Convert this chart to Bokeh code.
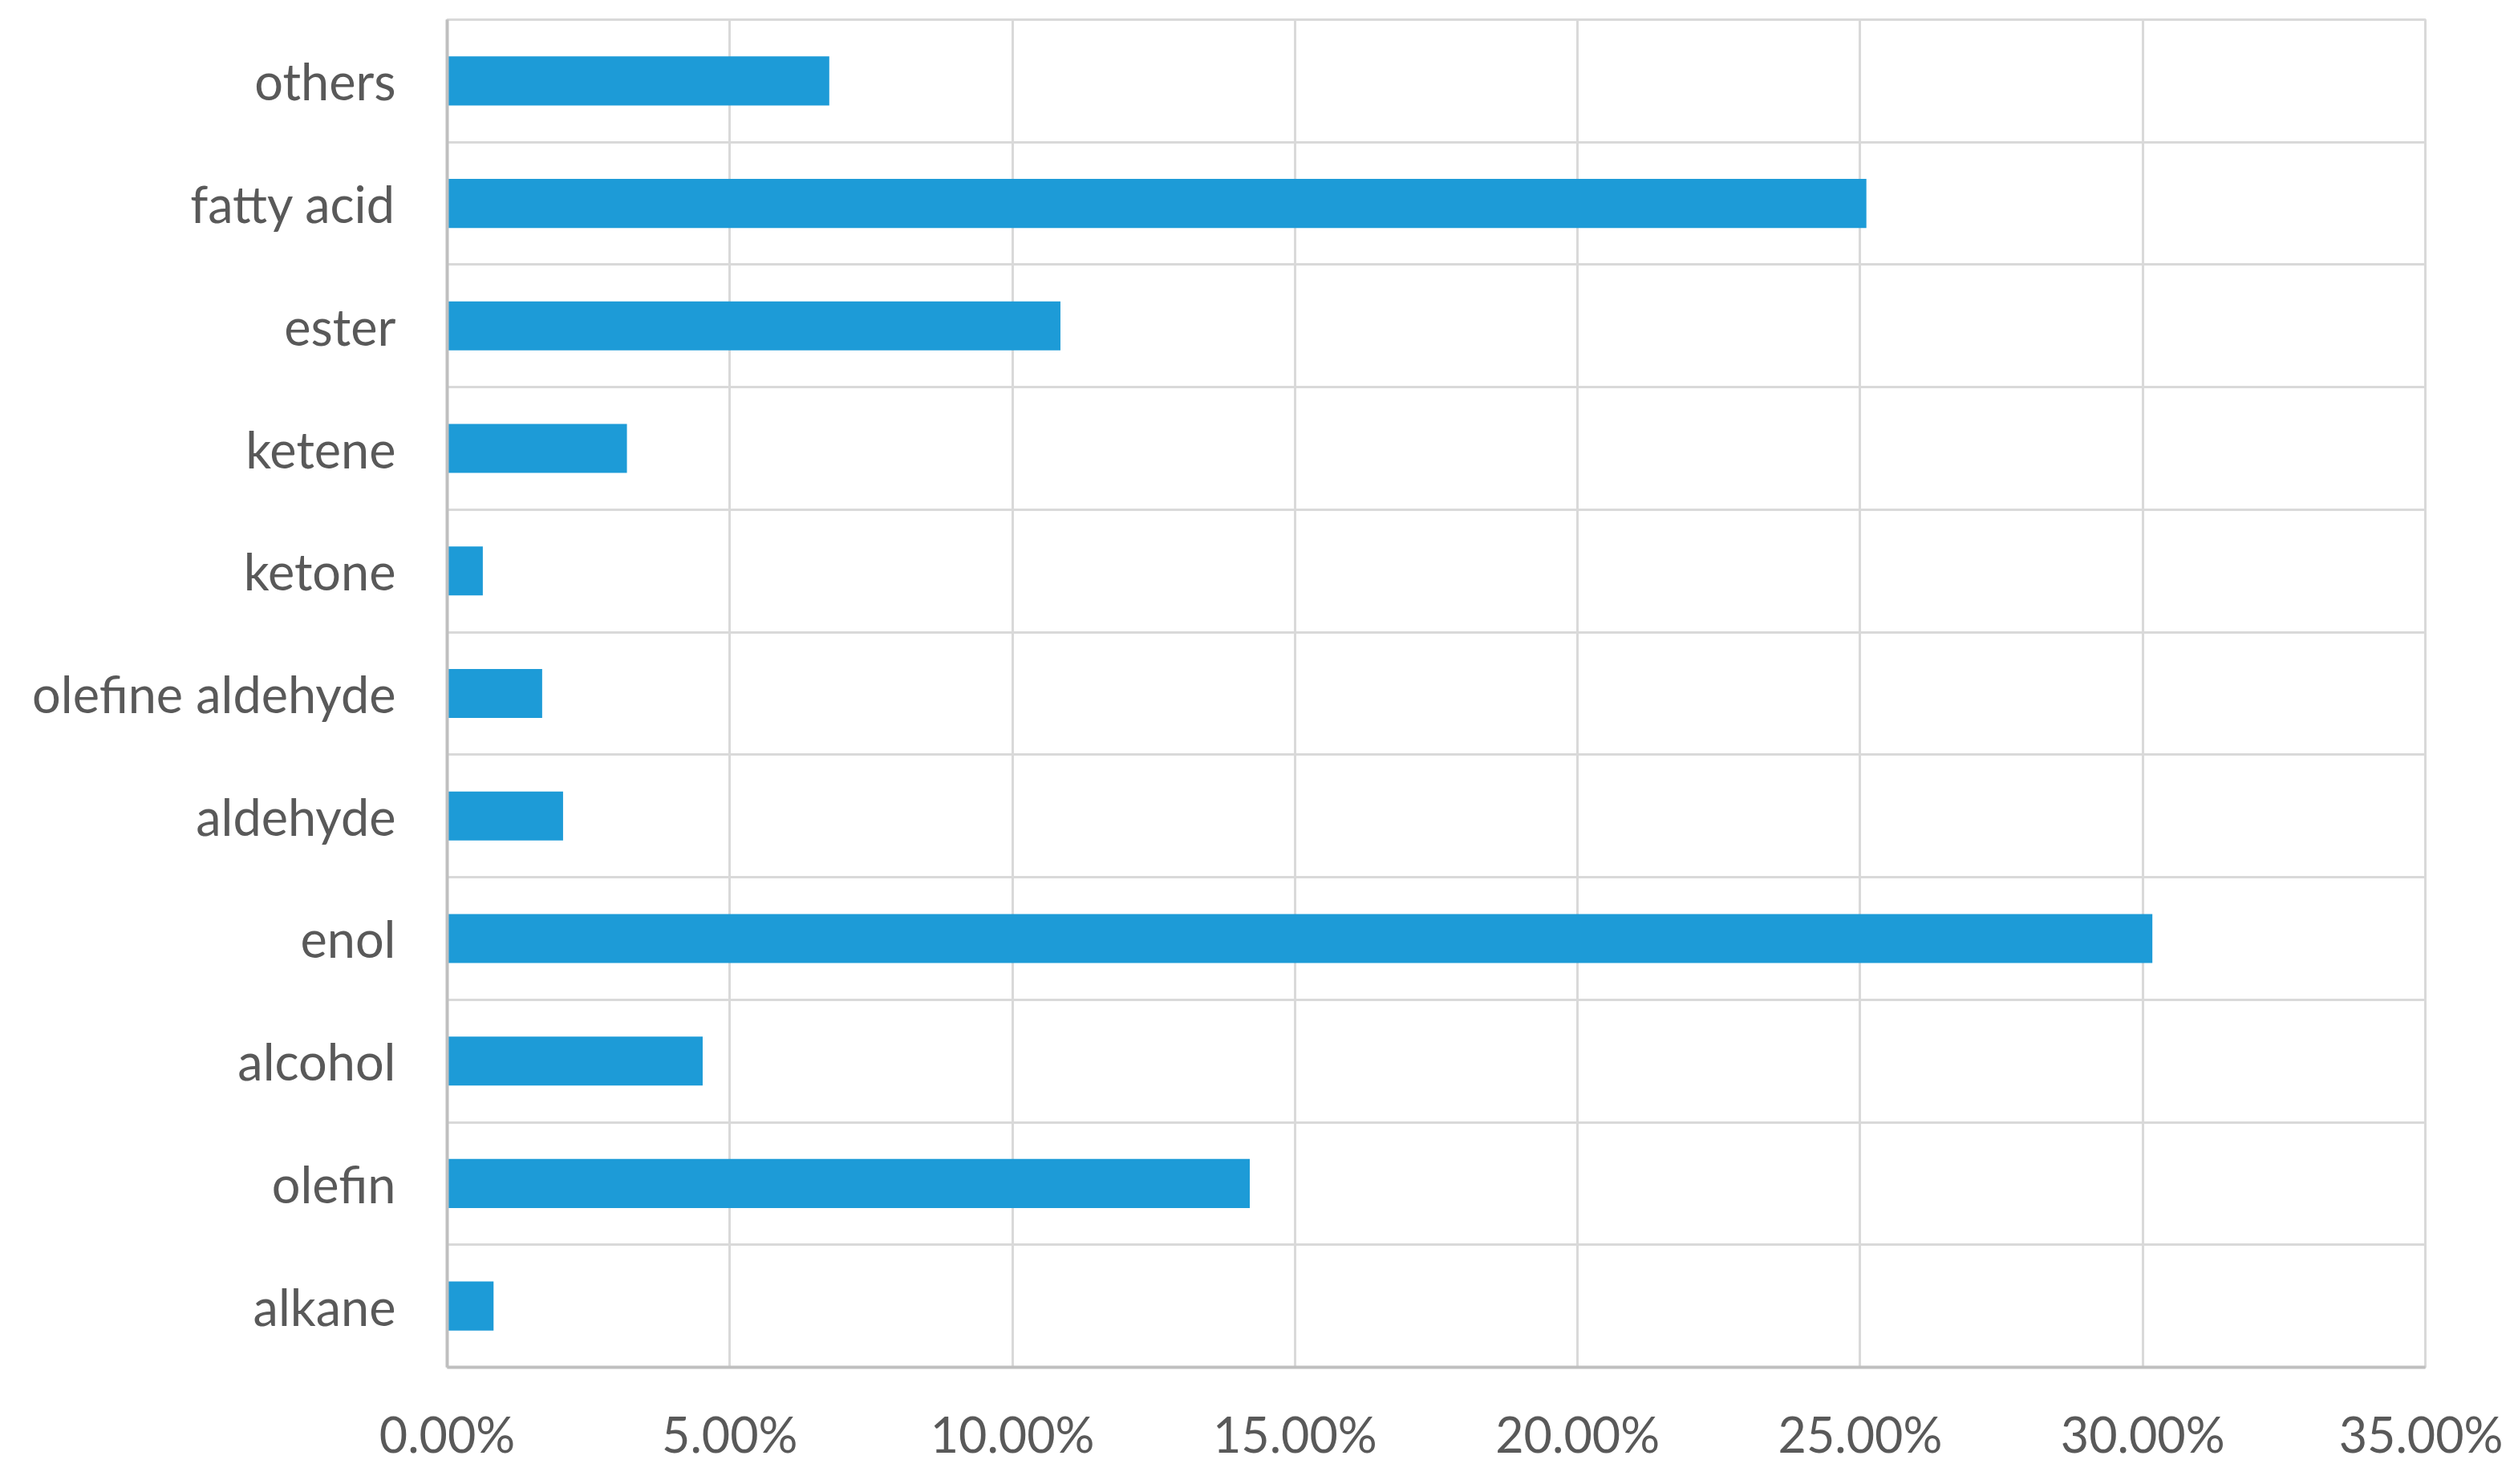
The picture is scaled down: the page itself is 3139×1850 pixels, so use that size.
from bokeh.plotting import figure
from bokeh.models import Range1d, FixedTicker, NumeralTickFormatter, ColumnDataSource
from bokeh.embed import file_html
from bokeh.resources import INLINE

categories = ["alkane", "olefin", "alcohol", "enol", "aldehyde", "olefine aldehyde",
              "ketone", "ketene", "ester", "fatty acid", "others"]
values = [0.0082, 0.1420, 0.0452, 0.3017, 0.0205, 0.0168, 0.0063, 0.0318, 0.1085, 0.2511, 0.0676]
x_ticks = [0.0, 0.05, 0.10, 0.15, 0.20, 0.25, 0.30, 0.35]

n = len(categories)
positions = list(range(n))
src = ColumnDataSource(dict(y=positions, v=values, cat=categories))

p = figure(width=3120, height=1834, output_backend="svg", toolbar_location=None,
           x_range=Range1d(x_ticks[0], x_ticks[-1]), y_range=Range1d(-0.5, n - 0.5),
           min_border_left=557, min_border_right=97, min_border_top=24, min_border_bottom=130)

p.hbar(y="y", right="v", left=0, height=0.4, source=src, fill_color="#1d9bd7", line_color=None)

font = "Lato"
label_color = "#595959"

# x axis
p.xaxis.ticker = FixedTicker(ticks=x_ticks)
p.xaxis.formatter = NumeralTickFormatter(format="0.00%")
p.xaxis.major_tick_line_color = None
p.xaxis.minor_tick_line_color = None
p.xaxis.major_label_standoff = 40
p.xaxis.major_label_text_font = font
p.xaxis.major_label_text_font_size = "61px"
p.xaxis.major_label_text_color = label_color
p.xaxis.axis_line_color = "#bfbfbf"
p.xaxis.axis_line_width = 4

# y axis
p.yaxis.ticker = FixedTicker(ticks=positions)
p.yaxis.major_label_overrides = {i: c for i, c in zip(positions, categories)}
p.yaxis.major_tick_line_color = None
p.yaxis.minor_tick_line_color = None
p.yaxis.major_label_standoff = 58
p.yaxis.major_label_text_font = font
p.yaxis.major_label_text_font_size = "63px"
p.yaxis.major_label_text_color = label_color
p.yaxis.axis_line_color = "#bfbfbf"
p.yaxis.axis_line_width = 4

# grids
p.xgrid.ticker = FixedTicker(ticks=x_ticks)
p.xgrid.grid_line_color = "#d9d9d9"
p.xgrid.grid_line_width = 3
p.ygrid.ticker = FixedTicker(ticks=[i - 0.5 for i in range(n + 1)])
p.ygrid.grid_line_color = "#d9d9d9"
p.ygrid.grid_line_width = 3

p.outline_line_color = "#d9d9d9"
p.outline_line_width = 3
p.background_fill_color = "white"
p.border_fill_color = "white"

open("out.html", "w").write(file_html(p, INLINE))
